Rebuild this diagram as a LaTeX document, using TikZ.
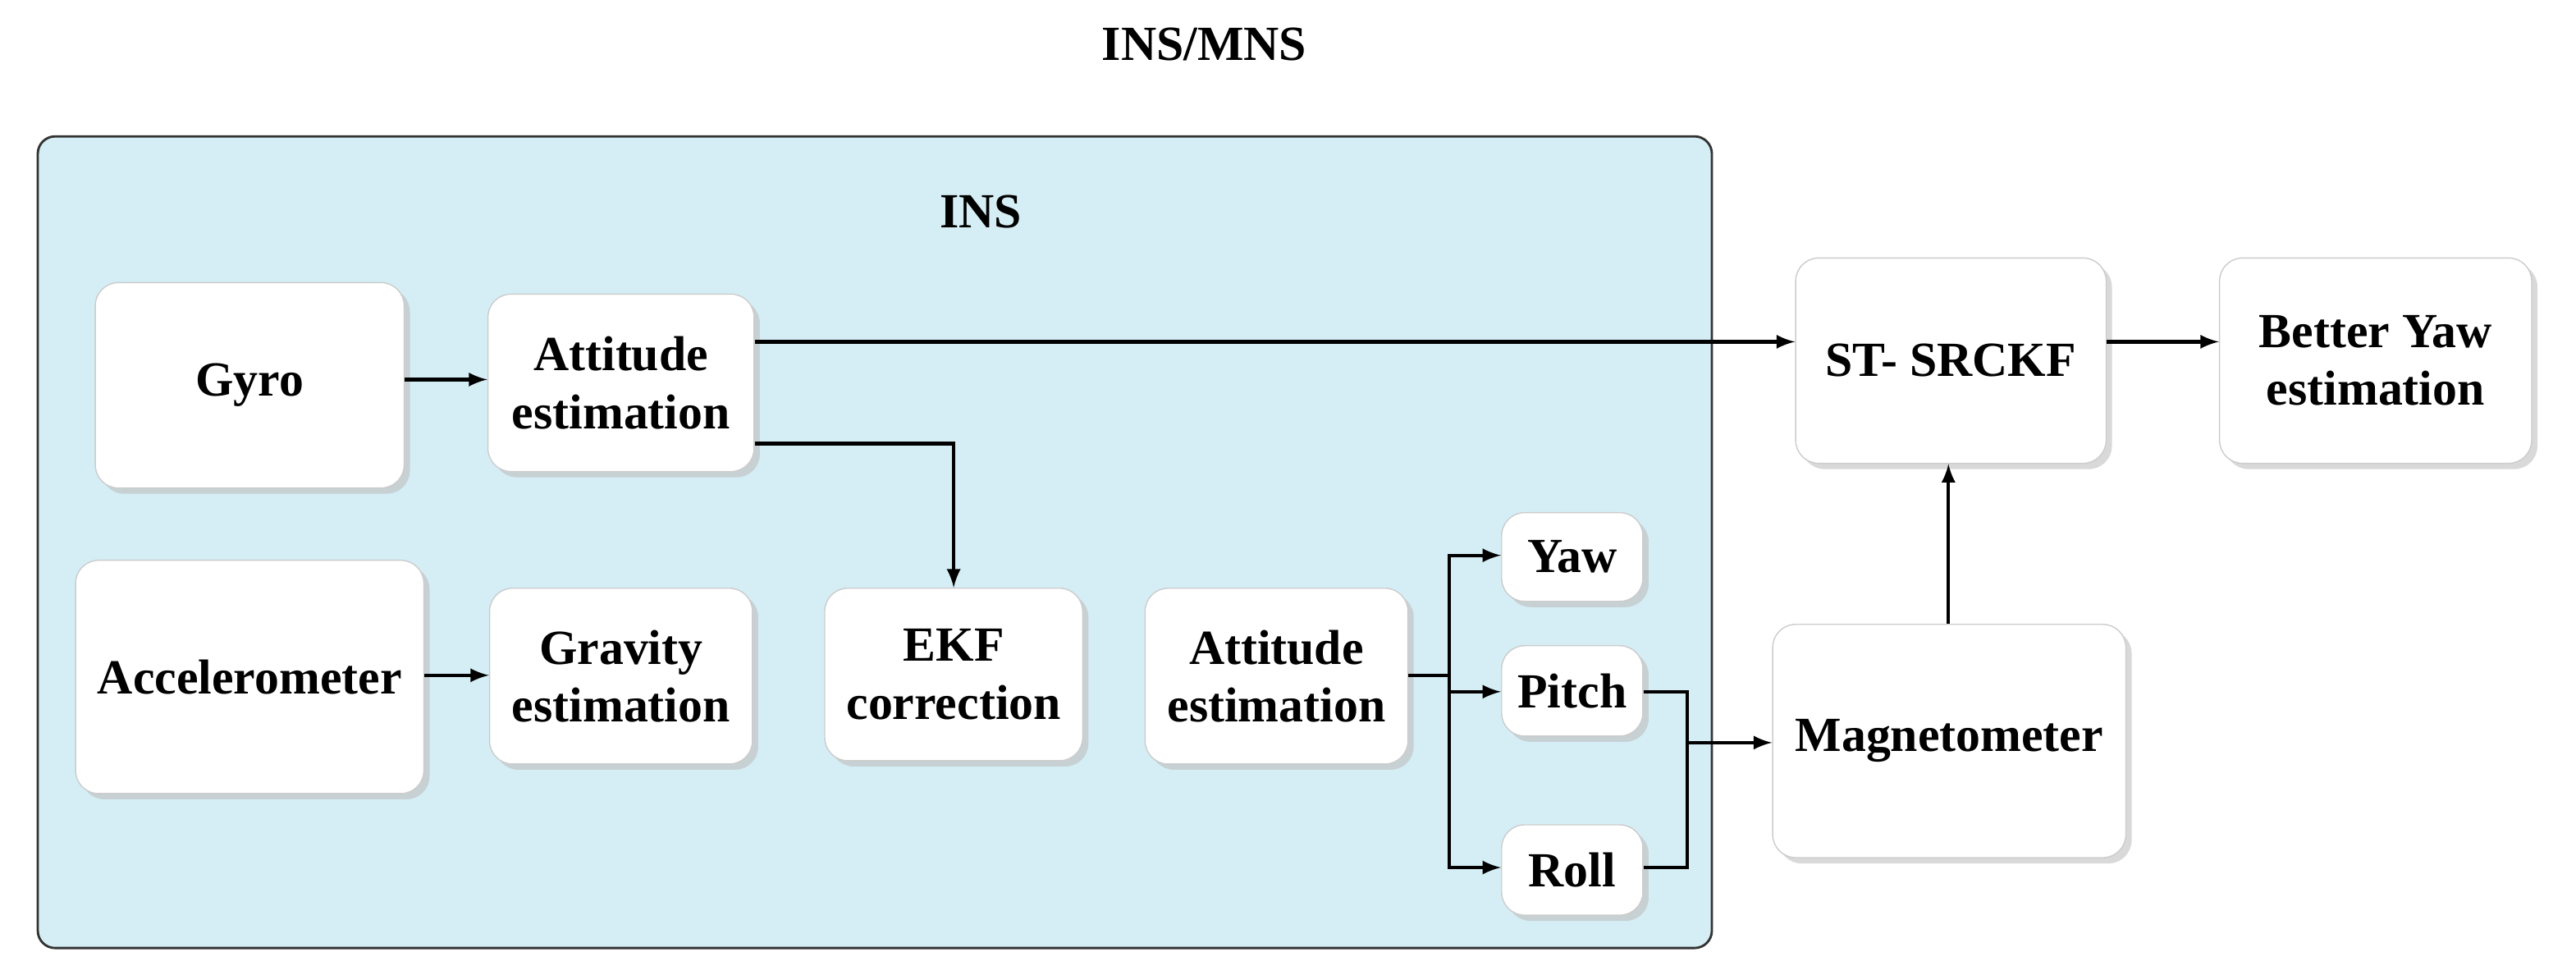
\documentclass[tikz,border=0pt]{standalone}
\usepackage{fontspec}
\setmainfont{Liberation Serif}
\usetikzlibrary{shadows}
\begin{document}
\begin{tikzpicture}[x=0.02cm,y=-0.02cm,
  box/.style={draw=gray!40,fill=white,rounded corners=8pt,drop shadow={shadow xshift=2pt,shadow yshift=-2pt,fill=gray!50,opacity=0.6},align=center,font=\fontsize{17}{20}\selectfont\bfseries},
  lab/.style={font=\fontsize{17}{20}\selectfont\bfseries},
  arr/.style={-latex,line width=1.2pt},
  ln/.style={line width=1.2pt}]
\useasboundingbox (0,0) rectangle (1568,593);
\node[lab] (title) at (733,27) {INS/MNS};
\draw[fill={rgb,255:red,213;green,238;blue,245},draw=black!80,rounded corners=6pt,line width=0.8pt] (23,83) rectangle (1042,577);
\node[lab] (ins) at (597,129) {INS};
\newcommand{\bx}[6]{\path[box] (#2,#3) rectangle (#4,#5); \node[align=center,font=\fontsize{17}{20}\selectfont\bfseries,minimum width={(#4-#2)*0.02cm},minimum height={(#5-#3)*0.02cm},inner sep=0pt] (#1) at ({(#2+#4)/2},{(#3+#5)/2}) {#6};}
\bx{gyro}{58}{172}{246}{297}{Gyro}
\bx{att1}{297}{179}{459}{287}{Attitude\\estimation}
\bx{acc}{46}{341}{258}{483}{Accelerometer}
\bx{grav}{298}{358}{458}{465}{Gravity\\estimation}
\bx{ekf}{502}{358}{659}{463}{EKF\\correction}
\bx{att2}{697}{358}{857}{465}{Attitude\\estimation}
\bx{yaw}{914}{312}{1000}{366}{Yaw}
\bx{pitch}{914}{393}{1000}{448}{Pitch}
\bx{roll}{914}{502}{1000}{557}{Roll}
\bx{mag}{1079}{380}{1294}{522}{Magnetometer}
\bx{st}{1093}{157}{1282}{282}{ST- SRCKF}
\bx{bet}{1351}{157}{1541}{282}{Better Yaw\\estimation}
\coordinate (j1) at (882,411);
\coordinate (j2) at (1027,452);
\draw[arr] (gyro.east|-0,231) -- (att1.west|-0,231);
\draw[arr] (att1.east|-0,208) -- (st.west|-0,208);
\draw[arr] (att1.east|-0,270) -| (ekf.north);
\draw[arr] (acc.east|-0,411) -- (grav.west|-0,411);
\draw[ln] (att2.east|-0,411) -- (j1);
\draw[arr] (j1) |- (yaw.west|-0,338);
\draw[arr] (j1) |- (pitch.west|-0,421);
\draw[arr] (j1) |- (roll.west|-0,528);
\draw[ln] (pitch.east|-0,421) -| (j2);
\draw[ln] (roll.east|-0,528) -| (j2);
\draw[arr] (j2) -- (mag.west|-0,452);
\draw[arr] (mag.north-|1186,0) -- (st.south-|1186,0);
\draw[arr] (st.east|-0,208) -- (bet.west|-0,208);
\end{tikzpicture}
\end{document}
